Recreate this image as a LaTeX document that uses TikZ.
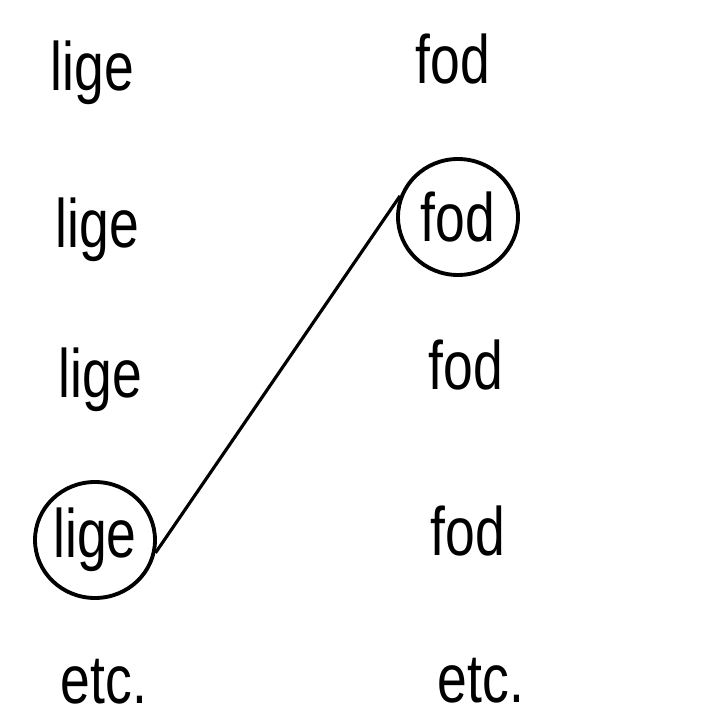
\documentclass[tikz,border=0pt]{standalone}
\usepackage{fontspec}
\setmainfont[FakeStretch=0.78]{Liberation Sans}
\usetikzlibrary{shapes.geometric}
\tikzset{
  every node/.style={font=\fontsize{19.5}{22}\selectfont, inner sep=0pt},
  word/.style={anchor=base west},
  ringed/.style={
    ellipse, draw, line width=1.1pt, minimum width=1.2cm,
    minimum height=1.16cm, inner sep=0pt
  },
  link/.style={line width=0.9pt}
}

\begin{document}
\begin{tikzpicture}
\useasboundingbox (0,0) rectangle (7.25,7.16);

% ── Left column: lige ────────────────────────────────────────────────────────
\node[word] (l1) at (0.50, 6.25) {lige};
\node[word] (l2) at (0.55, 4.68) {lige};
\node[word] (l3) at (0.58, 3.18) {lige};
\node[ringed] (l4) at (0.95, 1.76) {lige};
\node[word] (l5) at (0.60, 0.13) {etc.};

% ── Right column: fod ────────────────────────────────────────────────────────
\node[word] (f1) at (4.15, 6.32) {fod};
\node[ringed] (f2) at (4.58, 4.99) {fod};
\node[word] (f3) at (4.28, 3.26) {fod};
\node[word] (f4) at (4.30, 1.61) {fod};
\node[word] (f5) at (4.37, 0.14) {etc.};

% ── Link between the two ringed words ────────────────────────────────────────
\draw[link] (l4.-12) -- (f2.160);

\end{tikzpicture}
\end{document}
